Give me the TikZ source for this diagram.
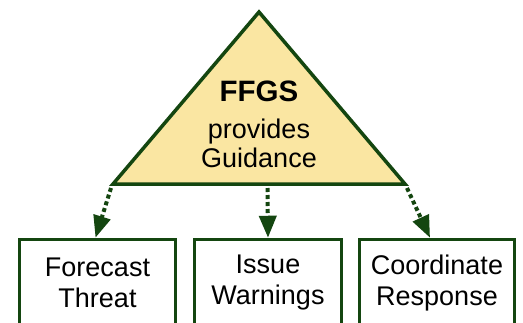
\documentclass[tikz,border=0pt]{standalone}
\usepackage{fontspec}
\setmainfont{Liberation Sans}
\usetikzlibrary{arrows.meta, positioning}
\definecolor{ForestLine}{RGB}{20, 70, 16}
\definecolor{SandFill}{RGB}{250, 230, 162}

\begin{document}
\begin{tikzpicture}[x=1pt, y=-1pt,
                    box/.style={rectangle, draw=ForestLine, line width=3.5pt, fill=white, font=\fontsize{27}{31}\selectfont, align=center, minimum height=87pt},
                    flow/.style={draw=ForestLine, line width=4pt, dash pattern=on 4pt off 3pt, -{Triangle[length=22pt, width=17pt]}}
                ]
                    \useasboundingbox (0,0) rectangle (523,322);
                    \clip (0,0) rectangle (523,322);

                    % guidance triangle
                    \coordinate (apex) at (259,12);
                    \coordinate (baseL) at (113,184);
                    \coordinate (baseR) at (405,184);
                    \draw[ForestLine, fill=SandFill, line width=3.5pt] (apex) -- (baseL) -- (baseR) -- cycle;
                    \node[align=center, font=\fontsize{27}{29}\selectfont] (ffgs) at (259,124) {\textbf{\fontsize{29.5}{30}\selectfont FFGS}\\[8pt]provides\\Guidance};

                    % tasks
                    \node[box, minimum width=156pt] (forecast) at (97.5,283) {Forecast\\Threat};
                    \node[box, minimum width=147pt] (warn) at (268,283) {Issue\\Warnings};
                    \node[box, minimum width=155pt] (coord) at (437,283) {Coordinate\\Response};

                    \coordinate (outL) at (111,188);
                    \coordinate (outM) at (267.5,188);
                    \coordinate (outR) at (407,188);

                    \draw[flow] (outL) -- ([xshift=-2pt]forecast.north);
                    \draw[flow] (outM) -- (warn.north);
                    \draw[flow] (outR) -- ([xshift=-7pt]coord.north);
                \end{tikzpicture}
\end{document}
